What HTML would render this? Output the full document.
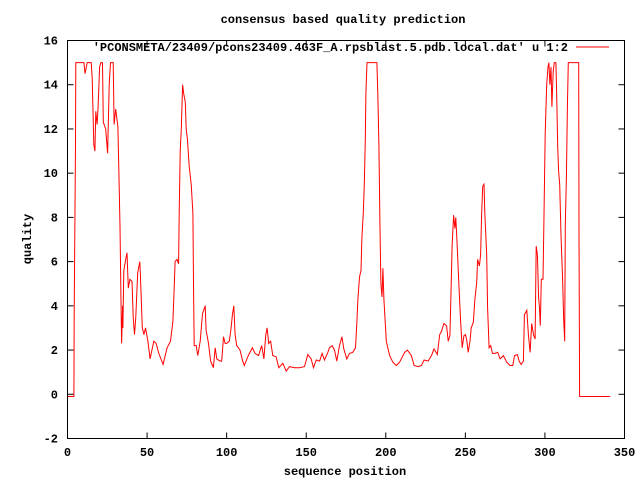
<!DOCTYPE html>
<html><head><meta charset="utf-8"><style>
body{margin:0;background:#fff}
svg{display:block}
text{font-family:"Liberation Mono",monospace;font-size:12px;font-weight:bold;fill:#000}
</style></head><body>
<svg id="chart" width="640" height="480" viewBox="0 0 640 480">
<rect width="640" height="480" fill="#fff"/>
<text x="343" y="23" text-anchor="middle">consensus based quality prediction</text>
<text x="345" y="475" text-anchor="middle">sequence position</text>
<text x="31" y="239" text-anchor="middle" transform="rotate(-90 31 239)">quality</text>
<g id="axes"></g>
<path id="series" fill="none" stroke="#f00" stroke-width="1"/>
<text x="568" y="51" text-anchor="end">'PCONSMETA/23409/pcons23409.4G3F_A.rpsblast.5.pdb.local.dat' u 1:2</text>
<line x1="576" y1="47" x2="609" y2="47" stroke="#f00"/>
<rect x="67.5" y="40.5" width="557" height="398" fill="none" stroke="#000"/>
</svg>
<script>
const xTicks=[0,50,100,150,200,250,300,350];
const yTicks=[-2,0,2,4,6,8,10,12,14,16];
const xs=[0,4,4.2,5,5.2,10.3,11,12.4,14.9,15.5,16,16.5,17.2,17.8,18.6,19.2,20.2,21,22,22.5,24,25.2,26.2,27,28.7,29.3,30.3,31.7,32.3,33,33.6,34,34.6,34.8,35.4,36.8,37.4,38.2,39.2,40.5,41.3,42.1,42.9,44.1,45.4,45.8,47,48,49,50.5,51.9,54.2,55.7,57.4,60.1,62.6,64.7,66.2,67,67.6,68.8,69.8,70.2,70.8,71.5,72.3,73,74,74.6,75.4,76.5,77.7,78.8,79.2,79.6,80.9,81.9,83.4,84.8,86.5,87.1,88.6,89.9,91.7,92.8,93.8,95.9,96.9,98,99,100,101.7,102.8,103.6,104.5,105.3,106.3,108.4,110.1,111.1,113.6,116.2,117.8,120,122,123.4,124.6,125.4,126.4,127.6,129,131.1,132.8,135.3,137.4,139.5,142.6,145.8,148.9,151,153.1,154.6,156.3,158.4,160,161.5,163.6,164.6,166.3,167.8,169.2,170.9,172.4,173.6,175.5,177.2,179.3,181,181.8,182.5,183.5,184.4,185,185.9,186.5,187.1,187.5,188.2,194.4,195,195.7,196.3,196.9,197.6,198.2,198.8,199.7,200.3,202.4,204.5,206.6,208.7,211.9,213.6,216.1,217.8,220.3,222.4,224.1,226.6,228.7,230.3,232.4,233.9,235,236.5,238.2,239.2,240.3,240.9,241.7,242.6,243.4,244,244.9,245.9,247,248,249.1,250.1,251,251.8,252.9,253.7,255,256,257.1,257.7,258.8,259.6,260.2,260.9,261.7,262.3,263.4,264,264.9,265.9,267,268.6,270.3,271.8,273.9,276,278.1,279.8,280.9,282.7,283.8,285,286.5,287.1,288.6,289.6,290.7,291.7,292.8,293.8,294.5,295.3,296,296.6,297.1,297.7,298.8,299.4,300.2,301.1,301.9,302.5,303.1,303.8,304.4,305.2,305.9,306.9,307.4,308,308.6,309.3,310.1,311.1,311.8,312.4,312.8,313.5,314.1,314.7,321.2,321.4,321.8,341];
const ys=[-0.1,-0.1,3.7,11.3,15,15,14.5,15,15,14.3,12.8,11.3,11,12.8,12.2,13,14.8,15,15,12.3,12,10.9,14,15,15,12.2,12.9,12.1,10,7.6,4.2,2.3,4,3,5.6,6.2,6.4,4.8,5.2,5.1,3.5,2.7,3.5,5.5,6,5.4,3,2.7,3,2.4,1.6,2.4,2.3,1.85,1.35,2.1,2.4,3.3,4.7,6,6.1,5.9,8.2,11,12,14,13.6,13.2,12,11.5,10.3,9.5,8.2,5,2.2,2.2,1.75,2.4,3.65,4,2.9,2.3,1.5,1.2,2.1,1.6,1.5,1.5,2.6,2.3,2.3,2.4,3,3.6,4,2.7,2.2,2,1.5,1.3,1.75,2.1,1.85,1.75,2.2,1.6,2.7,3,2.3,2.4,1.75,1.7,1.2,1.4,1.05,1.25,1.2,1.2,1.25,1.8,1.6,1.2,1.55,1.5,1.85,1.55,1.9,2.1,2.2,2,1.5,2.2,2.6,2.05,1.6,1.85,1.9,2.1,3.2,4.3,5.3,5.6,7.1,8.2,9.5,11.5,13.6,15,15,13.6,11.3,7.8,5,4.4,5.7,4.3,3.2,2.4,1.75,1.45,1.3,1.45,1.9,2,1.75,1.3,1.25,1.3,1.55,1.5,1.75,2.05,1.8,2.7,2.85,3.2,3.1,2.4,2.65,4.4,6.7,8.1,7.5,8,6.7,5.05,3.3,2.1,2.65,2.7,2.4,1.9,2.4,3,3.25,4.3,5.05,6.1,5.8,6.3,8.1,9.4,9.5,8.1,6.3,3.9,2.1,2.2,1.85,1.85,1.9,1.6,1.75,1.45,1.3,1.3,1.75,1.8,1.5,1.35,1.5,3.6,3.8,2.7,1.9,3.2,2.7,2.5,6.7,6.3,4.4,3.9,3.1,5.2,5.2,8.1,11.8,14,14.8,15,14,14.8,13,14.6,15,15,13.5,11.2,10.1,9.5,7.2,5.2,3.35,2.4,7.7,9.8,13,15,15,7.4,-0.1,-0.1];
const X0=67.5,X1=624.5,Y0=438.5,Y1=40.5,xmin=0,xmax=350,ymin=-2,ymax=16;
const sx=v=>X0+(v-xmin)/(xmax-xmin)*(X1-X0);
const sy=v=>Y0-(v-ymin)/(ymax-ymin)*(Y0-Y1);
const NS='http://www.w3.org/2000/svg';
const axes=document.getElementById('axes');
function mk(tag,attrs){const e=document.createElementNS(NS,tag);for(const k in attrs)e.setAttribute(k,attrs[k]);axes.appendChild(e);return e;}
xTicks.forEach(t=>{
  const x=sx(t);
  const a=mk('line',{x1:x,y1:Y0,x2:x,y2:Y0-6,stroke:'#000'});
  
  
  const b=mk('line',{x1:x,y1:Y1,x2:x,y2:Y1+6,stroke:'#000'});
  
  
  const l=mk('text',{x:x,y:456,'text-anchor':'middle'});
  l.textContent=t;
  
  
});
yTicks.forEach(t=>{
  const y=sy(t);
  const a=mk('line',{x1:X0,y1:y,x2:X0+6,y2:y,stroke:'#000'});
  
  
  const b=mk('line',{x1:X1,y1:y,x2:X1-6,y2:y,stroke:'#000'});
  
  
  const l=mk('text',{x:58,y:y+4,'text-anchor':'end'});
  l.textContent=t;
  
  
});
let d='';
xs.forEach((v,i)=>{d+=(i?'L':'M')+sx(v).toFixed(1)+' '+sy(ys[i]).toFixed(1);});
document.getElementById('series').setAttribute('d',d);
</script>
</body></html>
